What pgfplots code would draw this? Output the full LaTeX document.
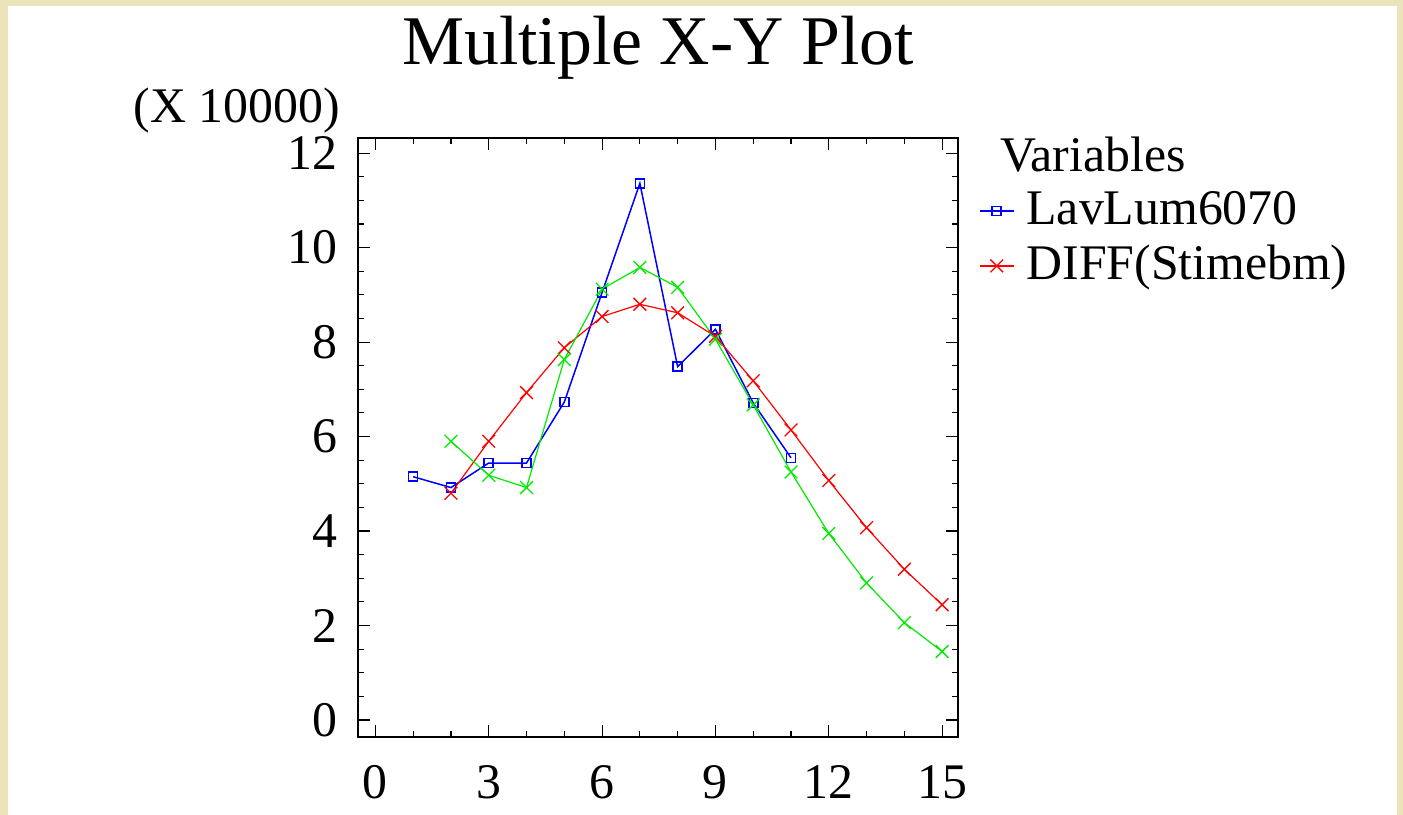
\documentclass[border=0pt]{standalone}
\usepackage{fontspec}
\setmainfont{Liberation Serif}
\usepackage{pgfplots}
\pgfplotsset{compat=1.18}

\definecolor{frameback}{RGB}{235,227,186}
\definecolor{sgblue}{RGB}{0,0,255}
\definecolor{sgred}{RGB}{255,0,0}
\definecolor{sggreen}{RGB}{0,235,0}

\begin{document}
\begin{tikzpicture}
% page frame
\fill[frameback] (0,0) rectangle (1403bp,815bp);
\fill[white] (8bp,0) rectangle (1397bp,809bp);

\begin{axis}[
  name=ax,
  at={(358bp,78bp)}, anchor=south west,
  width=600bp, height=599bp, scale only axis,
  xmin=-0.46, xmax=15.42,
  ymin=-0.36, ymax=12.32,
  xtick={0,3,...,15}, ytick={0,2,...,12},
  minor x tick num=2, minor y tick num=3,
  tick align=inside,
  major tick length=12bp, minor tick length=6bp,
  axis line style={line width=1.4bp},
  every tick/.style={black, line width=1.1bp},
  /pgf/number format/assume math mode=true,
  tick label style={font=\fontsize{50}{60}\selectfont},
  xticklabel style={inner sep=0pt, yshift=-28bp},
  yticklabel style={inner sep=0pt, xshift=-20bp},
  legend style={draw=none, fill=none, inner sep=0pt, outer sep=0pt,
    at={(1.035,0.915)}, anchor=north west,
    font=\fontsize{50}{60}\selectfont,
    nodes={inner sep=0pt, text height=36bp, text depth=12bp},
    row sep=7bp,
    /tikz/every odd column/.append style={column sep=12bp}},
  legend cell align=left,
  legend image code/.code={
    \draw[mark repeat=2, mark phase=2, #1]
      plot coordinates {(0bp,2bp) (17bp,2bp) (34bp,2bp)};},
]
% LavLum6070
\addplot[sgblue, line width=1.5bp, mark=square, mark size=4.5bp,
  mark options={line width=1.6bp}]
  coordinates {
  (1,5.15) (2,4.92) (3,5.44) (4,5.44) (5,6.73) (6,9.05)
  (7,11.36) (8,7.48) (9,8.27) (10,6.71) (11,5.55)};
\addlegendentry{LavLum6070}
% DIFF(Stimebm)
\addplot[sgred, line width=1.2bp, mark=x, mark size=9bp,
  mark options={line width=1.3bp}]
  coordinates {
  (2,4.80) (3,5.90) (4,6.93) (5,7.88) (6,8.54) (7,8.80) (8,8.62)
  (9,8.12) (10,7.18) (11,6.14) (12,5.07) (13,4.07) (14,3.19) (15,2.44)};
\addlegendentry{DIFF(Stimebm)}
% third series
\addplot[sggreen, line width=1.2bp, mark=x, mark size=9bp,
  mark options={line width=1.3bp}, forget plot]
  coordinates {
  (2,5.90) (3,5.18) (4,4.92) (5,7.63) (6,9.12) (7,9.58) (8,9.16)
  (9,8.06) (10,6.67) (11,5.25) (12,3.95) (13,2.90) (14,2.06) (15,1.45)};
\end{axis}

\node[anchor=base, font=\fontsize{70}{84}\selectfont]
  at ([yshift=73bp]ax.north) {Multiple X-Y Plot};
\node[anchor=base east, inner sep=0pt, font=\fontsize{50}{60}\selectfont]
  at ([xshift=-18bp, yshift=15bp]ax.north west) {(X 10000)};
\node[anchor=base west, inner sep=0pt, font=\fontsize{50}{60}\selectfont]
  at ([xshift=42bp, yshift=-34bp]ax.north east) {Variables};

\pgfresetboundingbox
\useasboundingbox (0,0) rectangle (1403bp,815bp);
\end{tikzpicture}
\end{document}
